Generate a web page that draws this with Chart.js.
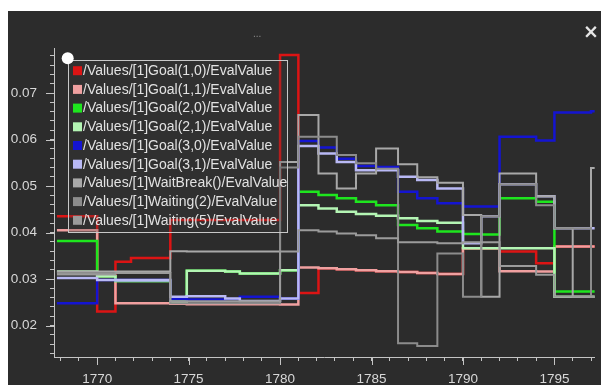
<!DOCTYPE html>
<html>
<head>
<meta charset="utf-8">
<script src="https://cdn.jsdelivr.net/npm/chart.js@4.4.1/dist/chart.umd.min.js"></script>
<style>
  html, body { margin: 0; padding: 0; background: #fff; }
  #panel { position: absolute; left: 8px; top: 11px; width: 593px; height: 374px; background: #2c2c2c; overflow: hidden; }
  #chartBox { position: absolute; left: 0; top: 0; width: 593px; height: 374px; }
  .dots { position: absolute; left: 245px; top: 17px; color: #8a8a8a; font: 10px 'Liberation Sans', Arial, sans-serif; }
  .close { position: absolute; left: 575px; top: 9px; color: #e6e6e6; font: bold 19px 'DejaVu Sans', sans-serif; }
</style>
</head>
<body>
<div id="panel">
  <div id="chartBox"><canvas id="evalChart"></canvas></div>
  <div class="dots">...</div>
  <div class="close">×</div>
</div>
<script>
// step start times (years); each value holds until the next one
const years = [1767.8, 1770, 1771, 1771.85, 1774, 1774.9, 1777, 1777.8, 1780, 1781, 1782.1, 1783.1,
               1784.15, 1785.25, 1786.45, 1787.5, 1788.6, 1790, 1791, 1792, 1794, 1795, 1796, 1797];
const lastYear = 1797.6;

const goal10 = [0.0435, 0.023, 0.0337, 0.0345, 0.0427, 0.0427, 0.0427, 0.0427, 0.0782, 0.027, 0.0323, 0.0321,
                0.0319, 0.0317, 0.0315, 0.0313, 0.0311, 0.0366, 0.0366, 0.0359, 0.0334, 0.037, 0.037, 0.037];
const goal11 = [0.0405, 0.0306, 0.0248, 0.0248, 0.0247, 0.0246, 0.0246, 0.0246, 0.0245, 0.0325, 0.0323, 0.0321,
                0.0319, 0.0317, 0.0315, 0.0313, 0.0311, 0.0366, 0.0366, 0.0317, 0.0316, 0.037, 0.037, 0.037];
const goal20 = [0.0382, 0.0306, 0.0296, 0.0296, 0.0251, 0.0318, 0.0316, 0.0312, 0.0319, 0.0488, 0.0481, 0.0474,
                0.0466, 0.0459, 0.0416, 0.0409, 0.0402, 0.0397, 0.0396, 0.0474, 0.0466, 0.0273, 0.0273, 0.0273];
const goal21 = [0.0316, 0.0306, 0.0296, 0.0296, 0.0251, 0.0318, 0.0316, 0.0312, 0.0319, 0.0459, 0.0452, 0.0445,
                0.044, 0.0436, 0.0431, 0.0425, 0.0421, 0.0366, 0.0366, 0.0366, 0.0366, 0.0262, 0.0262, 0.0262];
const goal30 = [0.0248, 0.0298, 0.0298, 0.0298, 0.0257, 0.0256, 0.0257, 0.0262, 0.0258, 0.0597, 0.0583, 0.0559,
                0.0543, 0.0541, 0.0488, 0.0474, 0.0463, 0.0456, 0.0456, 0.0606, 0.0598, 0.0658, 0.0658, 0.0661];
const goal31 = [0.0302, 0.0298, 0.0298, 0.0298, 0.0262, 0.0263, 0.0258, 0.0253, 0.0258, 0.0586, 0.057, 0.0552,
                0.0534, 0.0534, 0.052, 0.0513, 0.0495, 0.0377, 0.0435, 0.0504, 0.0478, 0.0409, 0.0409, 0.0409];
const waitBreak = [0.0316, 0.0316, 0.0316, 0.0316, 0.036, 0.0359, 0.0359, 0.0359, 0.0552, 0.0653, 0.0527, 0.0495,
                   0.0527, 0.0581, 0.0547, 0.0519, 0.0507, 0.0438, 0.0262, 0.0527, 0.0478, 0.0409, 0.0262, 0.0539];
const waiting2 = [0.0313, 0.0313, 0.0313, 0.0313, 0.0248, 0.0248, 0.0248, 0.0248, 0.054, 0.0606, 0.0606, 0.0567,
                  0.0549, 0.0537, 0.0162, 0.0156, 0.0355, 0.0262, 0.0435, 0.0504, 0.0459, 0.0409, 0.0409, 0.0262];
const waiting5 = [0.031, 0.031, 0.0313, 0.0313, 0.0252, 0.0252, 0.0252, 0.0252, 0.0359, 0.0405, 0.0402, 0.0398,
                  0.0394, 0.0388, 0.0379, 0.0379, 0.0377, 0.0379, 0.0379, 0.0328, 0.0309, 0.0262, 0.0262, 0.0262];

const seriesNames = [
  '/Values/[1]Goal(1,0)/EvalValue',
  '/Values/[1]Goal(1,1)/EvalValue',
  '/Values/[1]Goal(2,0)/EvalValue',
  '/Values/[1]Goal(2,1)/EvalValue',
  '/Values/[1]Goal(3,0)/EvalValue',
  '/Values/[1]Goal(3,1)/EvalValue',
  '/Values/[1]WaitBreak()/EvalValue',
  '/Values/[1]Waiting(2)/EvalValue',
  '/Values/[1]Waiting(5)/EvalValue'
];
const seriesValues = [goal10, goal11, goal20, goal21, goal30, goal31, waitBreak, waiting2, waiting5];
const seriesColors = ['#dc1414', '#f0a0a0', '#1ee61e', '#b4f5b4', '#1414d2', '#b9b9f5', '#a8a8a8', '#8c8c8c', '#9b9b9b'];
const seriesWidths = [2.5, 2.5, 2.5, 2.5, 2.5, 2.5, 2, 2, 2];

const yMajor = [0.02, 0.03, 0.04, 0.05, 0.06, 0.07];
const xMajor = [1770, 1775, 1780, 1785, 1790, 1795];
const yMinor = [];
for (let v = 14; v <= 78; v += 2) yMinor.push(v / 1000);
const xMinor = [];
for (let yr = 1768; yr <= 1797; yr++) xMinor.push(yr);

const axisColor = '#c4c4c4';
const labelColor = '#d8d8d8';
const labelFont = { family: "'Liberation Sans', Arial, sans-serif", size: 13.5 };

function toPoints(values) {
  const pts = years.map((yr, i) => ({ x: yr, y: values[i] }));
  pts.push({ x: lastYear, y: values[values.length - 1] });
  return pts;
}

const datasets = seriesValues.map((vals, i) => ({
  label: seriesNames[i],
  data: toPoints(vals),
  borderColor: seriesColors[i],
  backgroundColor: seriesColors[i],
  borderWidth: seriesWidths[i],
  stepped: true,
  pointRadius: 0,
  fill: false,
  borderJoinStyle: 'miter',
  order: seriesValues.length - i   // later series drawn on top
}));

// longer marks on the labelled ticks
const majorTicks = {
  id: 'majorTicks',
  afterDraw(chart) {
    const { ctx, chartArea, scales } = chart;
    ctx.save();
    ctx.strokeStyle = axisColor;
    ctx.lineWidth = 1;
    yMajor.forEach(v => {
      const py = Math.round(scales.y.getPixelForValue(v)) + 0.5;
      ctx.beginPath();
      ctx.moveTo(chartArea.left - 8, py);
      ctx.lineTo(chartArea.left, py);
      ctx.stroke();
    });
    xMajor.forEach(v => {
      const px = Math.round(scales.x.getPixelForValue(v)) + 0.5;
      ctx.beginPath();
      ctx.moveTo(px, chartArea.bottom);
      ctx.lineTo(px, chartArea.bottom + 8);
      ctx.stroke();
    });
    ctx.restore();
  }
};

// legend box inside the plot, top-left
const insideLegend = {
  id: 'insideLegend',
  afterDraw(chart) {
    const ctx = chart.ctx;
    const left = 60, top = 49, w = 219, h = 172;
    ctx.save();
    ctx.fillStyle = 'rgba(60,60,60,0.25)';
    ctx.fillRect(left, top, w, h);
    ctx.strokeStyle = '#c8c8c8';
    ctx.lineWidth = 1;
    ctx.strokeRect(left + 0.5, top + 0.5, w, h);
    ctx.font = "14px 'Liberation Sans', Arial, sans-serif";
    ctx.textBaseline = 'middle';
    seriesNames.forEach((name, i) => {
      const cy = 59.7 + i * 18.7;
      ctx.fillStyle = seriesColors[i];
      ctx.fillRect(65, cy - 4.5, 9, 9);
      ctx.fillStyle = '#e2e2e2';
      ctx.fillText(name, 75, cy + 0.5);
    });
    ctx.fillStyle = '#ffffff';
    ctx.beginPath();
    ctx.arc(59.7, 47.3, 6, 0, Math.PI * 2);
    ctx.fill();
    ctx.restore();
  }
};

new Chart(document.getElementById('evalChart'), {
  type: 'line',
  data: { datasets: datasets },
  options: {
    responsive: true,
    maintainAspectRatio: false,
    animation: false,
    layout: { padding: { top: 37, right: 0, left: 0, bottom: 0 } },
    plugins: {
      legend: { display: false },
      tooltip: { enabled: false },
      title: { display: false }
    },
    scales: {
      x: {
        type: 'linear',
        min: 1767.64,
        max: 1797.2,
        afterBuildTicks: axis => { axis.ticks = xMinor.map(v => ({ value: v })); },
        afterFit: scale => { scale.height = 28; },
        grid: { drawOnChartArea: false, color: axisColor, tickLength: 4 },
        border: { color: axisColor, width: 1 },
        ticks: {
          autoSkip: false,
          maxRotation: 0,
          padding: 10,
          color: labelColor,
          font: labelFont,
          callback: v => (v % 5 === 0 ? String(v) : '')
        }
      },
      y: {
        min: 0.01323,
        max: 0.0797,
        afterBuildTicks: axis => { axis.ticks = yMinor.map(v => ({ value: v })); },
        afterFit: scale => { scale.width = 46; },
        grid: { drawOnChartArea: false, color: axisColor, tickLength: 4 },
        border: { color: axisColor, width: 1 },
        ticks: {
          autoSkip: false,
          padding: 13,
          color: labelColor,
          font: labelFont,
          callback: v => (Math.abs(v * 100 - Math.round(v * 100)) < 1e-6 ? v.toFixed(2) : '')
        }
      }
    }
  },
  plugins: [majorTicks, insideLegend]
});
</script>
</body>
</html>
